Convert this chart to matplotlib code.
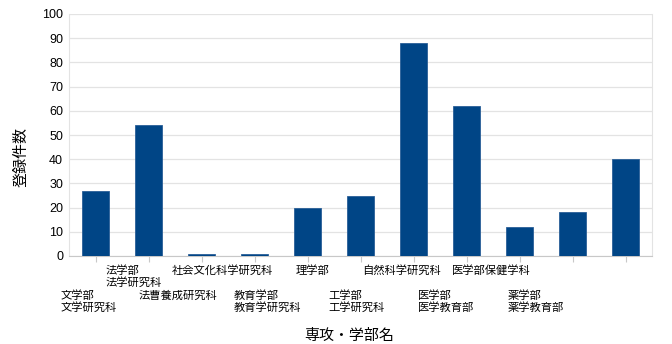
import matplotlib
matplotlib.use('Agg')
import matplotlib.pyplot as plt

plt.rcParams['font.family'] = ['Noto Sans CJK JP', 'DejaVu Sans']

# categories (two-line labels where the original has two lines)
labels = ['文学部\n文学研究科', '法学部\n法学研究科', '法曹養成研究科', '社会文化科学研究科',
          '教育学部\n教育学研究科', '理学部', '工学部\n工学研究科', '自然科学研究科',
          '医学部\n医学教育部', '医学部保健学科', '薬学部\n薬学教育部']
counts = [27, 54, 1, 1, 20, 25, 88, 62, 12, 18, 40]
yticks = [0, 10, 20, 30, 40, 50, 60, 70, 80, 90, 100]

W, H = 672, 344
fig = plt.figure(figsize=(W / 100, H / 100), dpi=100)
ax = fig.add_axes([69 / W, 1 - 256 / H, (652 - 69) / W, (256 - 14) / H])

x = list(range(len(counts)))
ax.bar(x, counts, width=0.5, color='#004586', edgecolor='#2a5f97', linewidth=0.6, zorder=3)
ax.set_xlim(-0.5, len(counts) - 0.5)
ax.set_ylim(0, 100)
ax.set_yticks(yticks)
ax.set_yticklabels([str(v) for v in yticks], fontsize=9, family='Liberation Sans')
ax.tick_params(axis='y', length=0, pad=4.3)
ax.set_xticks(x)
ax.set_xticklabels([])
ax.tick_params(axis='x', length=4, width=0.8, color='#c8c8c8', direction='out')
ax.grid(axis='y', color='#e3e3e3', linewidth=0.9, zorder=0)
for s in ['left', 'right']:
    ax.spines[s].set_color('#e3e3e3')
ax.spines['top'].set_visible(False)
ax.spines['bottom'].set_color('#c8c8c8')

# staggered category labels
for i, lab in enumerate(labels):
    cx = (88.75 + 44.7 * i) / W
    ty = 265 if i % 2 == 1 else 290.5
    fig.text(cx, 1 - ty / H, lab, ha='center', va='top', multialignment='left',
             fontsize=8.1, linespacing=1.1)

fig.text(22 / W, 1 - 157 / H, '登録件数', rotation=90, ha='center', va='center', fontsize=10.8)
fig.text(349 / W, 1 - 336 / H, '専攻・学部名', ha='center', va='center', fontsize=10.8)

fig.savefig('out.png', dpi=100)
